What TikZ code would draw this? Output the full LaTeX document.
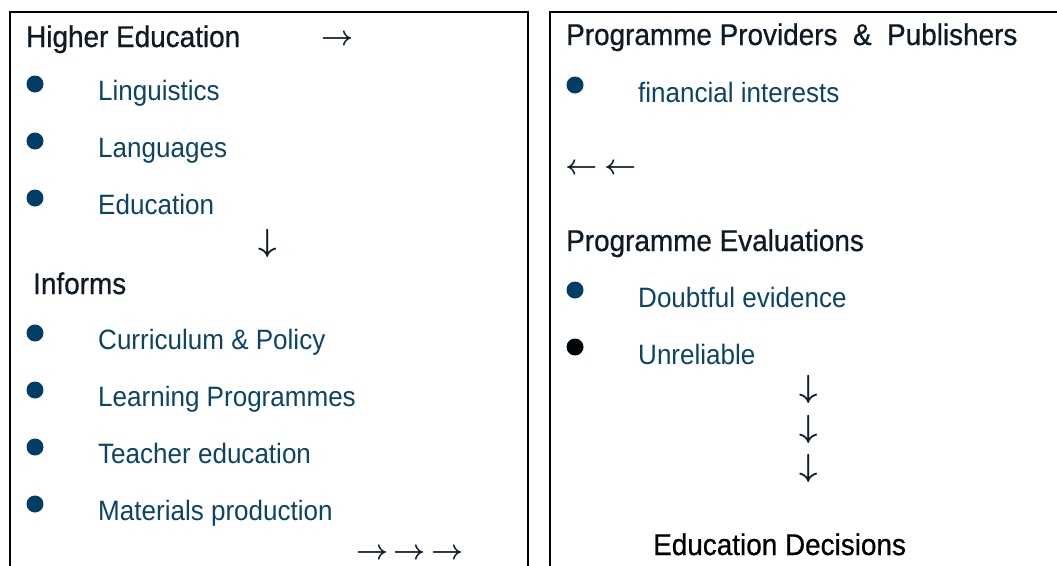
\documentclass[tikz,border=0pt]{standalone}
\usepackage{fix-cm}
\usepackage{fontspec}
\setmainfont{Liberation Sans}[FakeStretch=0.93]
\newfontfamily\headfont{Liberation Sans}[FakeStretch=0.93,FakeBold=0.7]
\usepackage{tikz}
\definecolor{headcol}{HTML}{0E1B27}
\definecolor{itemcol}{HTML}{0B4465}
\definecolor{dotcol}{HTML}{023D66}
\tikzset{
  frame/.style={line width=2.5pt},
  heading/.style={anchor=base west,inner sep=0pt,text=headcol,font=\headfont\fontsize{30}{32}\selectfont},
  item/.style={anchor=base west,inner sep=0pt,text=itemcol,font=\fontsize{28}{30}\selectfont},
  dot/.style={circle,fill=dotcol,inner sep=0pt,minimum size=17pt},
  arrowtext/.style={inner sep=0pt,text=headcol,font=\fontsize{28}{28}\selectfont\boldmath},
  downtext/.style={arrowtext,font=\fontsize{32}{32}\selectfont\boldmath}
}

\begin{document}
\begin{tikzpicture}[x=1pt,y=-1pt]
    \useasboundingbox (0,0) rectangle (1057,565);
    \clip (0,0) rectangle (1057,565);

    % the two open frames
    \draw[frame] (10,580) -- (10,12) -- (528,12) -- (528,580);
    \draw[frame] (550,580) -- (550,12) -- (1070,12);

    % left column
    \node[heading] (higher) at (26,47) {Higher Education};
    \node[arrowtext] (toright) at (338,40) {$\rightarrow$};
    \foreach \name/\txt/\y in {ling/Linguistics/100,lang/Languages/157,educ/Education/214,
        curr/{Curriculum \& Policy}/349,learn/Learning Programmes/406,
        teach/Teacher education/463,mat/Materials production/520}{
      \node[dot] (dot-\name) at (35,\y-16) {};
      \node[item] (\name) at (98,\y) {\txt};
    }
    \node[downtext] (down) at (268,243) {$\downarrow$};
    \node[heading] (informs) at (33,294) {Informs};
    \node[arrowtext] (toright3) at (410,554)
      {$\rightarrow\hspace{5pt}\rightarrow\hspace{5pt}\rightarrow$};

    % right column
    \node[heading] (providers) at (566,45) {Programme Providers\ \ \&\ \ Publishers};
    \node[dot] (dot-fin) at (575,85) {};
    \node[item] (fin) at (638,102) {financial interests};
    \node[arrowtext] (toleft) at (601,169) {$\leftarrow\hspace{7pt}\leftarrow$};
    \node[heading] (evals) at (566,251) {Programme Evaluations};
    \node[dot] (dot-doubt) at (575,290) {};
    \node[item] (doubt) at (638,307) {Doubtful evidence};
    \node[dot,fill=black!90!dotcol] (dot-unrel) at (575,347) {};
    \node[item] (unrel) at (638,364) {Unreliable};
    \foreach \i/\y in {1/389,2/429,3/468}
      \node[downtext] (down\i) at (809,\y) {$\downarrow$};
    \node[heading,text=black] (decisions) at (653,555) {Education Decisions};
\end{tikzpicture}
\end{document}
